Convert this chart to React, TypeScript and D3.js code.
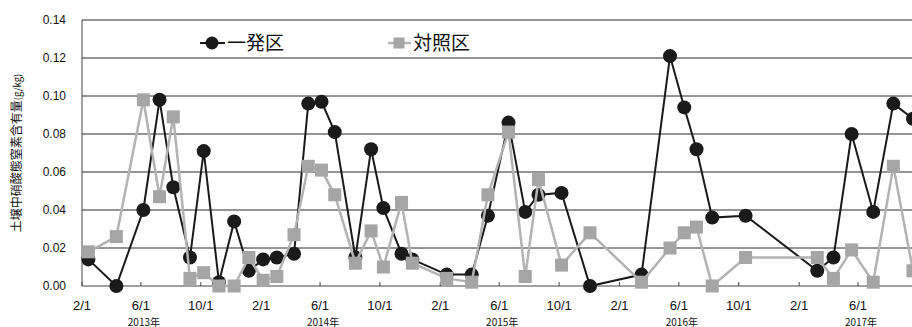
import React from 'react';
import * as d3 from 'd3';

// sampling dates (both plots share them)
const dates = [
  '2013-02-14', '2013-04-12', '2013-06-06', '2013-07-09', '2013-08-06', '2013-09-09',
  '2013-10-07', '2013-11-07', '2013-12-08', '2014-01-07', '2014-02-05', '2014-03-05',
  '2014-04-09', '2014-05-08', '2014-06-04', '2014-07-01', '2014-08-12', '2014-09-13',
  '2014-10-08', '2014-11-14', '2014-12-06', '2015-02-14', '2015-04-06', '2015-05-09',
  '2015-06-20', '2015-07-24', '2015-08-20', '2015-10-06', '2015-12-03', '2016-03-17',
  '2016-05-14', '2016-06-12', '2016-07-07', '2016-08-08', '2016-10-15', '2017-03-10',
  '2017-04-12', '2017-05-19', '2017-07-02', '2017-08-12', '2017-09-21',
];

// 一発区
const ippatsu = [
  0.014, 0.000, 0.040, 0.098, 0.052, 0.015, 0.071, 0.002, 0.034, 0.008, 0.014, 0.015,
  0.017, 0.096, 0.097, 0.081, 0.015, 0.072, 0.041, 0.017, 0.014, 0.006, 0.006, 0.037,
  0.086, 0.039, 0.048, 0.049, 0.000, 0.006, 0.121, 0.094, 0.072, 0.036, 0.037, 0.008,
  0.015, 0.080, 0.039, 0.096, 0.088,
];

// 対照区
const taisho = [
  0.018, 0.026, 0.098, 0.047, 0.089, 0.004, 0.007, 0.000, 0.000, 0.015, 0.003, 0.005,
  0.027, 0.063, 0.061, 0.048, 0.012, 0.029, 0.010, 0.044, 0.012, 0.004, 0.002, 0.048,
  0.081, 0.005, 0.056, 0.011, 0.028, 0.002, 0.020, 0.028, 0.031, 0.000, 0.015, 0.015,
  0.004, 0.019, 0.002, 0.063, 0.008,
];

const yTicks = [0, 0.02, 0.04, 0.06, 0.08, 0.10, 0.12, 0.14];
const years = [2013, 2014, 2015, 2016, 2017];
const yTitle = '土壌中硝酸態窒素含有量';
const yUnit = '(g/kg)';
const legendNames = ['一発区', '対照区'];

const width = 912;
const height = 327;
const cjk = '"Noto Sans CJK JP", "Noto Sans", sans-serif';
const num = '"Liberation Sans", Arial, sans-serif';

const App = () => {
  const parse = d3.utcParse('%Y-%m-%d');
  const xScale = d3.scaleUtc()
    .domain([parse('2013-02-01'), parse('2017-06-01')])
    .range([82, 858]);
  const yScale = d3.scaleLinear()
    .domain([0, 0.14])
    .range([286, 20]);

  // ticks every 4 months (2/1, 6/1, 10/1), only those that fit in the frame
  const xTicks = d3.utcMonth
    .range(parse('2013-02-01'), parse('2017-10-02'))
    .filter(d => d.getUTCMonth() % 4 === 1 && xScale(d) < width - 15);

  const pts = (vals) => vals.map((v, i) => [xScale(parse(dates[i])), yScale(v)]);
  const line = d3.line();
  const blackPts = pts(ippatsu);
  const greyPts = pts(taisho);

  const x0 = xScale.range()[0];
  const yMid = (yScale(0) + yScale(0.14)) / 2;

  return (
    <svg width={width} height={height} style={{ position: 'absolute', left: 0, top: 0, background: '#fff' }}>
      {/* grid */}
      {yTicks.map(t => (
        <g key={t}>
          {t > 0 && <line x1={x0} x2={width} y1={yScale(t)} y2={yScale(t)} stroke='#2a2a2a' strokeWidth='1' />}
          <text x={66} y={yScale(t)} dy='0.35em' textAnchor='end' fontFamily={num} fontSize='12px' fill='#111'>
            {t.toFixed(2)}
          </text>
        </g>
      ))}
      <line x1={x0} x2={x0} y1={yScale(0.14)} y2={yScale(0)} stroke='#444' strokeWidth='1' />
      <line x1={x0} x2={width} y1={yScale(0)} y2={yScale(0)} stroke='#444' strokeWidth='1' />
      {xTicks.map(d => (
        <g key={+d}>
          <line x1={xScale(d)} x2={xScale(d)} y1={yScale(0)} y2={yScale(0) - 4} stroke='#444' strokeWidth='1' />
          <text x={xScale(d)} y={310} textAnchor='middle' fontFamily={num} fontSize='13px' fill='#111'>
            {`${d.getUTCMonth() + 1}/1`}
          </text>
        </g>
      ))}
      {years.map(yr => (
        <text key={yr} x={xScale(parse(`${yr}-06-01`)) + 3} y={322} dy='0.35em' textAnchor='middle' fontFamily={cjk} fontSize='10px' fill='#111'>
          {`${yr}年`}
        </text>
      ))}

      {/* axis title */}
      <text transform={`translate(21,${yMid}) rotate(-90)`} textAnchor='middle' fontFamily={cjk} fontSize='12px' fill='#111'>
        {yTitle}<tspan fontSize='9.5px'>{yUnit}</tspan>
      </text>

      {/* 一発区 */}
      <path d={line(blackPts)} fill='none' stroke='#1a1a1a' strokeWidth='2' />
      {blackPts.map(([x, y], i) => <circle key={i} cx={x} cy={y} r='7' fill='#1a1a1a' />)}

      {/* 対照区 */}
      <path d={line(greyPts)} fill='none' stroke='#b3b3b3' strokeWidth='2.5' />
      {greyPts.map(([x, y], i) => <rect key={i} x={x - 6.5} y={y - 6.5} width='13' height='13' fill='#a5a5a5' />)}

      {/* legend */}
      <line x1={200} x2={225} y1={43} y2={43} stroke='#1a1a1a' strokeWidth='2' />
      <circle cx={212} cy={43} r='6.5' fill='#1a1a1a' />
      <text x={227} y={43} dy='0.36em' fontFamily={cjk} fontSize='19px' fill='#111'>{legendNames[0]}</text>
      <line x1={388} x2={411} y1={43} y2={43} stroke='#b3b3b3' strokeWidth='2.5' />
      <rect x={393.5} y={37.5} width='11' height='11' fill='#a5a5a5' />
      <text x={413} y={43} dy='0.36em' fontFamily={cjk} fontSize='19px' fill='#111'>{legendNames[1]}</text>
    </svg>
  );
};

export default App;
